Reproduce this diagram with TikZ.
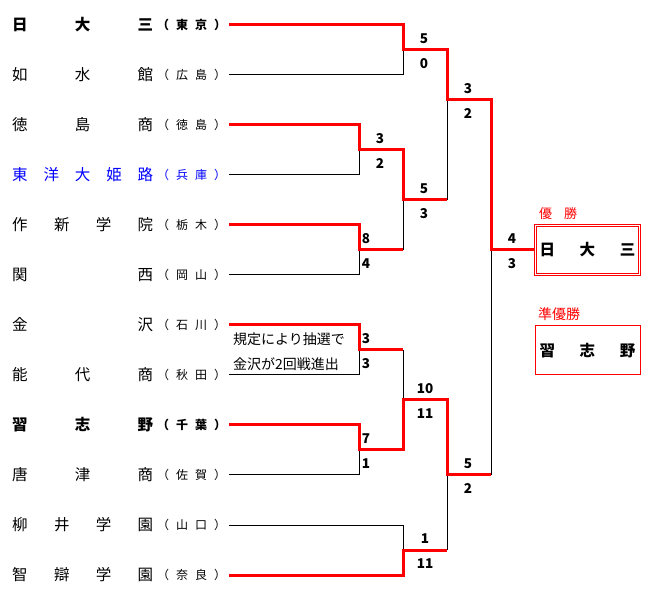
\documentclass[tikz,border=0pt]{standalone}
\usepackage{fontspec}
\newfontfamily\jp{Noto Sans CJK JP}
\definecolor{wred}{RGB}{255,0,0}
\definecolor{wblue}{RGB}{0,0,255}
\begin{document}
\begin{tikzpicture}[x=1pt,y=-1pt,
  win/.style={draw=wred,line width=3pt},
  lose/.style={draw=black,line width=1pt},
  tname/.style={anchor=west,inner sep=0pt,font=\jp\fontsize{15.5}{15.5}\selectfont},
  tpref/.style={anchor=west,inner sep=0pt,font=\jp\fontsize{12}{12}\selectfont},
  bname/.style={tname,font=\jp\bfseries\fontsize{15.5}{15.5}\selectfont},
  bpref/.style={tpref,font=\jp\bfseries\fontsize{12}{12}\selectfont},
  score/.style={inner sep=0pt,font=\jp\bfseries\fontsize{13.5}{13.5}\selectfont},
  note/.style={anchor=west,inner sep=0pt,font=\jp\fontsize{14}{14}\selectfont},
  lab/.style={anchor=west,inner sep=0pt,text=wred,font=\jp\fontsize{14}{14}\selectfont}]
\useasboundingbox[fill=white] (0,0) rectangle (651,601);
\newcommand{\tn}[1]{\hbox to 141pt{#1}}
\newcommand{\tp}[2]{\hbox to 69pt{（\hfil #1\hfil #2\hfil ）}}
% team names
\node[bname] (n1) at (12,25) {\tn{日\hfil 大\hfil 三}};
\node[bpref] (p1) at (157,25) {\tp{東}{京}};
\node[tname] (n2) at (12,75) {\tn{如\hfil 水\hfil 館}};
\node[tpref] (p2) at (157,75) {\tp{広}{島}};
\node[tname] (n3) at (12,125) {\tn{徳\hfil 島\hfil 商}};
\node[tpref] (p3) at (157,125) {\tp{徳}{島}};
\node[tname,text=wblue] (n4) at (12,175) {\tn{東\hfil 洋\hfil 大\hfil 姫\hfil 路}};
\node[tpref,text=wblue] (p4) at (157,175) {\tp{兵}{庫}};
\node[tname] (n5) at (12,225) {\tn{作\hfil 新\hfil 学\hfil 院}};
\node[tpref] (p5) at (157,225) {\tp{栃}{木}};
\node[tname] (n6) at (12,275) {\tn{関\hfil 西}};
\node[tpref] (p6) at (157,275) {\tp{岡}{山}};
\node[tname] (n7) at (12,325) {\tn{金\hfil 沢}};
\node[tpref] (p7) at (157,325) {\tp{石}{川}};
\node[tname] (n8) at (12,375) {\tn{能\hfil 代\hfil 商}};
\node[tpref] (p8) at (157,375) {\tp{秋}{田}};
\node[bname] (n9) at (12,425) {\tn{習\hfil 志\hfil 野}};
\node[bpref] (p9) at (157,425) {\tp{千}{葉}};
\node[tname] (n10) at (12,475) {\tn{唐\hfil 津\hfil 商}};
\node[tpref] (p10) at (157,475) {\tp{佐}{賀}};
\node[tname] (n11) at (12,525) {\tn{柳\hfil 井\hfil 学\hfil 園}};
\node[tpref] (p11) at (157,525) {\tp{山}{口}};
\node[tname] (n12) at (12,575) {\tn{智\hfil 辯\hfil 学\hfil 園}};
\node[tpref] (p12) at (157,575) {\tp{奈}{良}};
% line starts
\foreach \i/\y in {1/25,2/75,3/125,4/175,5/225,6/275,7/325,8/375,9/425,10/475,11/525,12/575}
  \coordinate (s\i) at (229,\y);
% joints
\coordinate (r1a) at (359,150);
\coordinate (r1b) at (359,250);
\coordinate (r1c) at (359,350);
\coordinate (r1d) at (359,450);
\coordinate (r2a) at (403,50);
\coordinate (r2b) at (403,200);
\coordinate (r2c) at (403,400);
\coordinate (r2d) at (403,550);
\coordinate (r3a) at (447,100);
\coordinate (r3b) at (447,475);
\coordinate (r4) at (491,250);
% result boxes
\node[draw=wred,line width=0.8pt,double=white,double distance=1.2pt,minimum width=104pt,minimum height=49pt,inner sep=0pt,font=\jp\bfseries\fontsize{15.5}{15.5}\selectfont] (champ) at (587.5,250) {\hbox to 96pt{日\hfil 大\hfil 三}};
\node[draw=wred,line width=1pt,minimum width=105pt,minimum height=49pt,inner sep=0pt,font=\jp\bfseries\fontsize{15.5}{15.5}\selectfont] (runner) at (587.5,350.5) {\hbox to 96pt{習\hfil 志\hfil 野}};
\node[lab,font=\jp\fontsize{13}{13}\selectfont] (lchamp) at (539,214) {優\hspace{12pt}勝};
\node[lab] (lrunner) at (538,314) {準優勝};
% losers (black)
\draw[lose] (s2) -| (r2a);
\draw[lose] (s4) -| (r1a);
\draw[lose] (s6) -| (r1b);
\draw[lose] (s8) -| (r1c);
\draw[lose] (s10) -| (r1d);
\draw[lose] (s11) -| (r2d);
\draw[lose] (r1b -| r2b) -- (r2b);
\draw[lose] (r2b -| r3a) -- (r3a);
\draw[lose] (r1c -| r2c) -- (r2c);
\draw[lose] (r2d -| r3b) -- (r3b);
\draw[lose] (r3b -| r4) -- (r4);
% winners (red)
\draw[win] (s1) -| (r2a) -| (r3a) -| (r4) -- (champ.west);
\draw[win] (s3) -| (r1a) -| (r2b) -- (r2b -| r3a);
\draw[win] (s5) -| (r1b) -- (r1b -| r2b);
\draw[win] (s7) -| (r1c) -- (r1c -| r2c);
\draw[win] (s9) -| (r1d) -| (r2c) -| (r3b) -- (r3b -| r4);
\draw[win] (s12) -| (r2d) -- (r2d -| r3b);
% note
\node[note] (note1) at (233,339) {規定により抽選で};
\node[note] (note2) at (233,364) {金沢が2回戦進出};
% scores
\node[score] (c1) at (424,39) {5};
\node[score] (c2) at (424,64) {0};
\node[score] (c3) at (380,139) {3};
\node[score] (c4) at (380,164) {2};
\node[score] (c5) at (424,189) {5};
\node[score] (c6) at (424,214) {3};
\node[score] (c7) at (366,239) {8};
\node[score] (c8) at (366,264) {4};
\node[score] (c9) at (468,89) {3};
\node[score] (c10) at (468,114) {2};
\node[score] (c11) at (512,239) {4};
\node[score] (c12) at (512,264) {3};
\node[score] (c13) at (366,339) {3};
\node[score] (c14) at (366,364) {3};
\node[score] (c15) at (366,439) {7};
\node[score] (c16) at (366,464) {1};
\node[score] (c17) at (425,389) {10};
\node[score] (c18) at (425,414) {11};
\node[score] (c19) at (468,464) {5};
\node[score] (c20) at (468,489) {2};
\node[score] (c21) at (425,539) {1};
\node[score] (c22) at (425,564) {11};
\end{tikzpicture}
\end{document}
